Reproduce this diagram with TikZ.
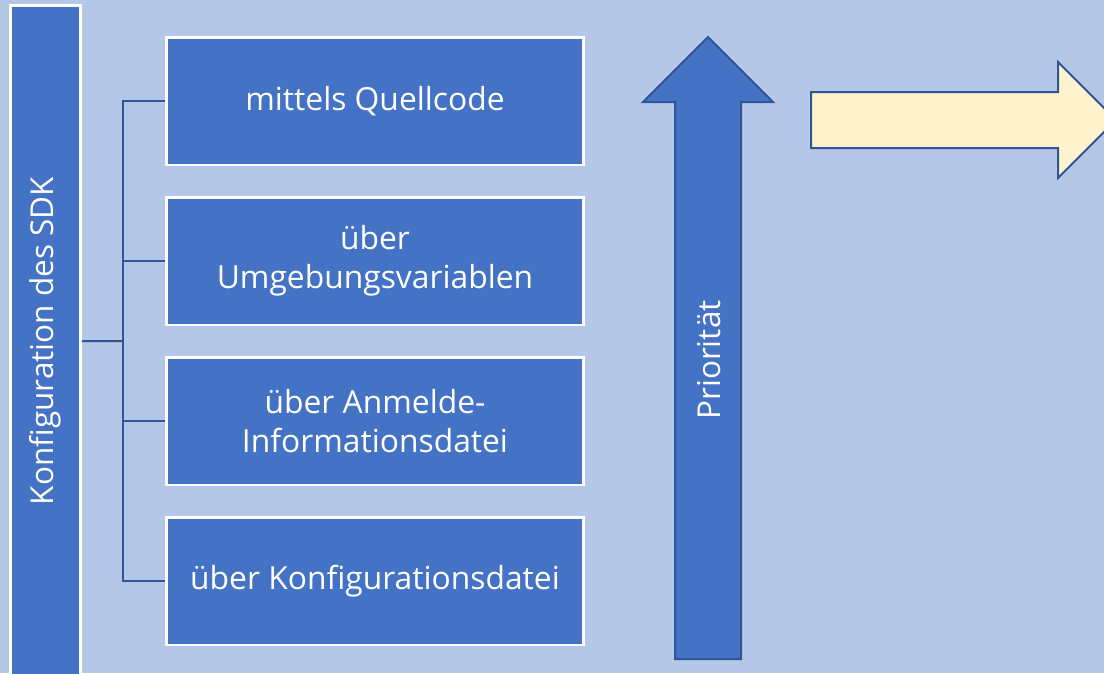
\documentclass[tikz,border=0pt]{standalone}
\usepackage{fontspec}
\setmainfont{Open Sans}
\definecolor{bgblue}{HTML}{B4C7E7}
\definecolor{boxblue}{HTML}{4472C4}
\definecolor{lineblue}{HTML}{2F5597}
\definecolor{paleyellow}{HTML}{FFF2CC}
\begin{document}
\begin{tikzpicture}[x=1pt,y=-1pt,
  boxstyle/.style={draw=white,line width=2.5pt,fill=boxblue,text=white,
    minimum width=417pt,minimum height=127.5pt,inner sep=0pt,align=center,
    font=\fontsize{31.8}{39}\selectfont},
  barstyle/.style={draw=white,line width=2.5pt,fill=boxblue,text=white,
    minimum width=70pt,minimum height=671.5pt,inner sep=0pt},
  conn/.style={draw=lineblue,line width=2pt},
  arrowshape/.style={draw=lineblue,line width=2pt,line join=miter},
  vtext/.style={text=white,rotate=90,font=\fontsize{31.5}{39}\selectfont}]
\useasboundingbox (0,0) rectangle (1104,673);
\fill[bgblue] (0,0) rectangle (1104,673);
% left bar
\node[barstyle] (bar) at (45.5,341.25) {};
\node[vtext] (bartext) at (45.5,341) {Konfiguration des SDK};
% boxes
\node[boxstyle] (b1) at (375,101) {mittels Quellcode};
\node[boxstyle] (b2) at (375,261) {über\\Umgebungsvariablen};
\node[boxstyle] (b3) at (375,421) {über Anmelde-\\Informationsdatei};
\node[boxstyle] (b4) at (375,581) {über Konfigurationsdatei};
% connectors
\coordinate (j) at (123,341);
\draw[conn] (bar.east) -- (j);
\draw[conn] (b1.west) -- (b1.west -| j) -- (b4.west -| j) -- (b4.west);
\draw[conn] (b2.west) -- (b2.west -| j);
\draw[conn] (b3.west) -- (b3.west -| j);
% priority arrow
\draw[arrowshape,fill=boxblue] (708,37) -- (773,102) -- (741,102) -- (741,659) -- (675,659) -- (675,102) -- (643,102) -- cycle;
\node[vtext] (prio) at (709,360) {Priorität};
% yellow arrow
\draw[arrowshape,fill=paleyellow] (811,92) -- (1058,92) -- (1058,62) -- (1116,120) -- (1058,178) -- (1058,148) -- (811,148) -- cycle;
\end{tikzpicture}
\end{document}
